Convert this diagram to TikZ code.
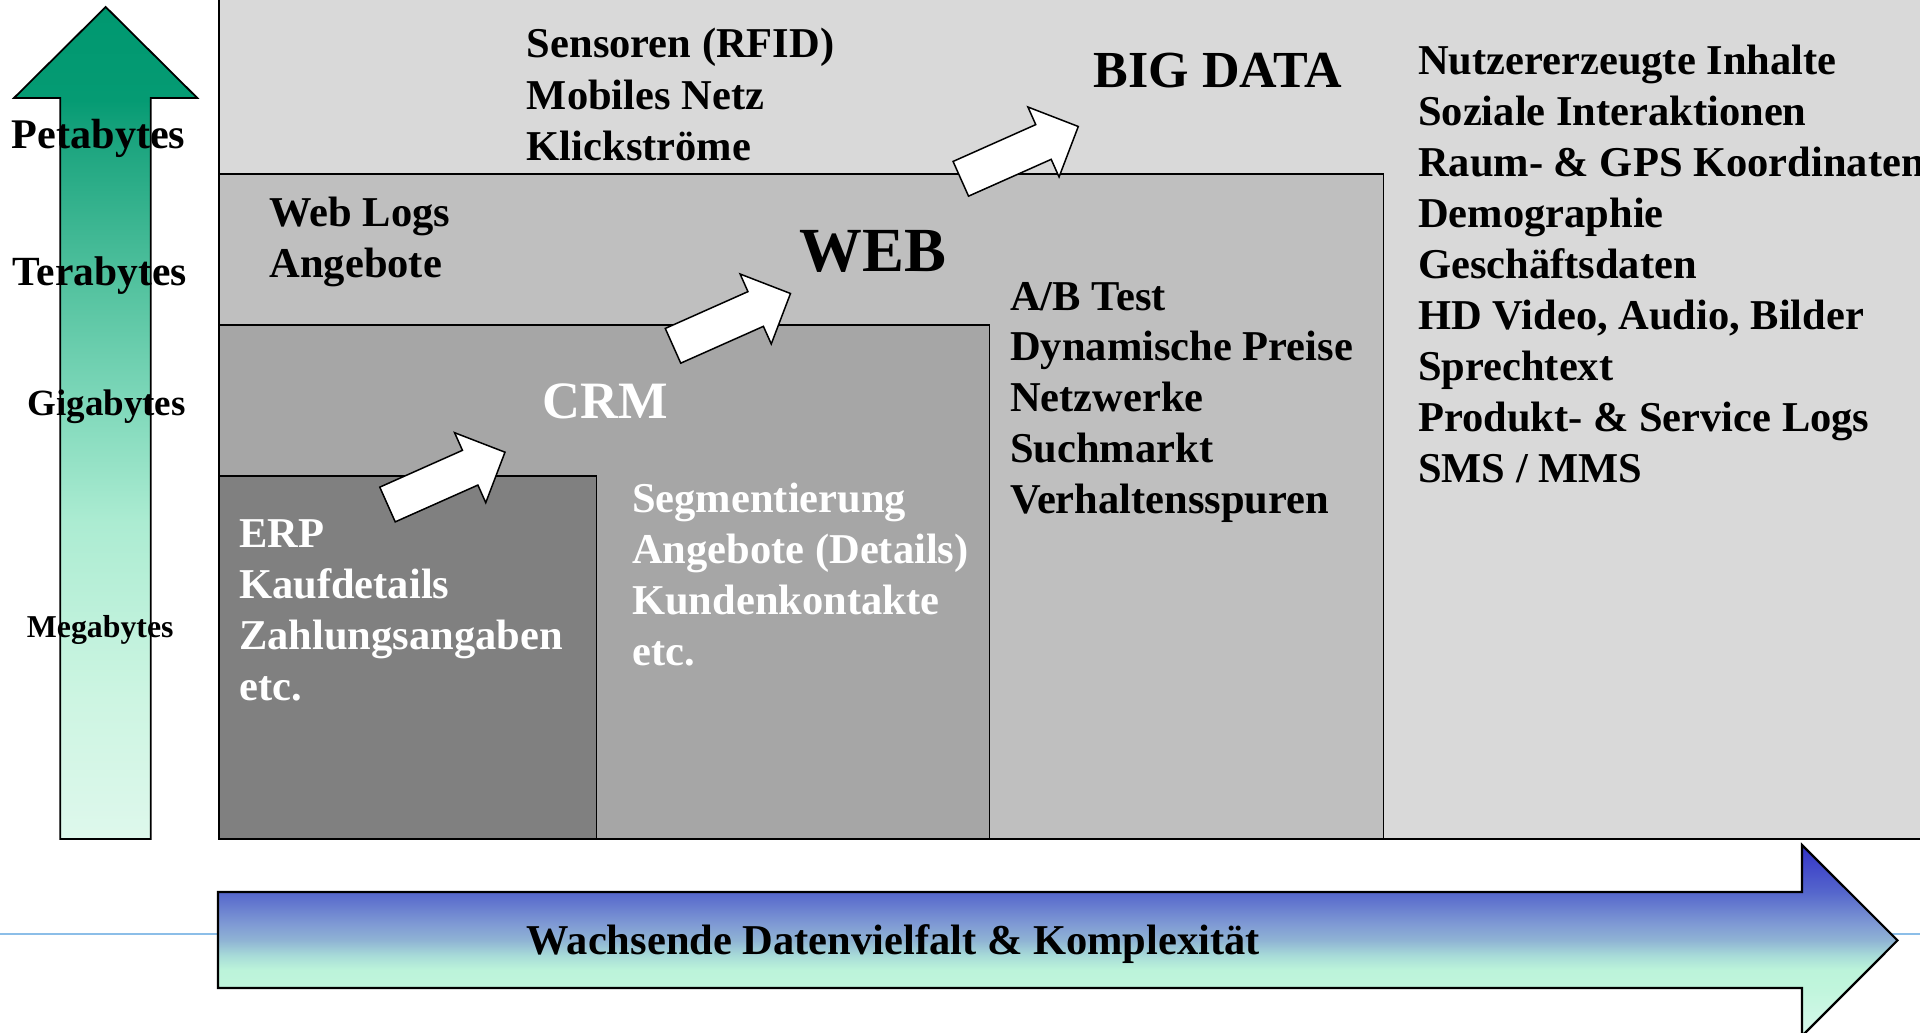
\documentclass[tikz,border=0pt]{standalone}
\usepackage{fontspec}
\setmainfont{Liberation Serif}
% green arrow colours (bottom -> top)
\definecolor{ga0}{RGB}{222,248,236}
\definecolor{ga1}{RGB}{205,245,226}
\definecolor{ga2}{RGB}{172,236,210}
\definecolor{ga3}{RGB}{125,215,185}
\definecolor{ga4}{RGB}{85,195,160}
\definecolor{ga5}{RGB}{25,163,125}
\definecolor{ga6}{RGB}{5,155,115}
\definecolor{ga7}{RGB}{0,152,112}
% blue arrow colours (bottom -> top)
\definecolor{ba0}{RGB}{215,248,235}
\definecolor{ba1}{RGB}{192,245,220}
\definecolor{ba2}{RGB}{188,244,218}
\definecolor{ba3}{RGB}{168,220,216}
\definecolor{ba4}{RGB}{143,179,212}
\definecolor{ba5}{RGB}{127,154,212}
\definecolor{ba6}{RGB}{85,102,204}
\definecolor{ba7}{RGB}{50,50,200}
\definecolor{bigdata}{RGB}{217,217,217}
\definecolor{webgray}{RGB}{191,191,191}
\definecolor{crmgray}{RGB}{166,166,166}
\definecolor{erpgray}{RGB}{128,128,128}
\definecolor{guideblue}{RGB}{140,190,232}
\pgfdeclareverticalshading{greenarrow}{100bp}{color(0bp)=(ga0); color(25bp)=(ga0); color(33.4bp)=(ga1); color(44bp)=(ga2); color(51.4bp)=(ga3); color(58bp)=(ga4); color(67.3bp)=(ga5); color(69.4bp)=(ga6); color(75bp)=(ga7); color(100bp)=(ga7)}
\pgfdeclareverticalshading{bluearrow}{100bp}{color(0bp)=(ba0); color(25bp)=(ba0); color(37.6bp)=(ba1); color(42.3bp)=(ba2); color(46bp)=(ba3); color(50.1bp)=(ba4); color(54.3bp)=(ba5); color(62.7bp)=(ba6); color(75bp)=(ba7); color(100bp)=(ba7)}
\tikzset{
  region/.style={draw=black, line width=1.8pt},
  whitearrow/.style={draw=black, fill=white, line width=1.5pt, line join=miter},
  pics/blockarr/.style={code={
    \draw[whitearrow] (0,-19) -- (90.5,-19) -- (90.5,-38.3) -- (128.6,0)
      -- (90.5,38.3) -- (90.5,19) -- (0,19) -- cycle;}},
  lbl/.style={inner sep=0pt, anchor=base west, font=\bfseries\fontsize{42.5}{51}\selectfont},
  wlbl/.style={lbl, text=white},
}
\begin{document}
\begin{tikzpicture}[x=1pt, y=-1pt]
\path[use as bounding box] (0,0) rectangle (1920,1033);
\clip (0,0) rectangle (1920,1033);
\fill[white] (0,0) rectangle (1920,1033);

% thin blue guide line
\draw[draw=guideblue, line width=2.5pt] (0,934) -- (1920,934);

% nested regions
\path[region, fill=bigdata] (219,-10) rectangle (1930,839);
\path[region, fill=webgray] (219,174) rectangle (1383.5,839);
\path[region, fill=crmgray] (219,325) rectangle (989.5,839);
\path[region, fill=erpgray] (219,476) rectangle (596.5,839);

% vertical volume arrow
\shade[shading=greenarrow, draw=black, line width=1.8pt, line join=miter]
  (60.3,839) -- (60.3,98) -- (14,98) -- (105.7,7) -- (197.3,98)
  -- (150.7,98) -- (150.7,839) -- cycle;

% horizontal variety arrow
\shade[shading=bluearrow, draw=black, line width=2.2pt, line join=miter]
  (218,892) -- (1802,892) -- (1802,845) -- (1897.5,940.4) -- (1802,1036)
  -- (1802,988) -- (218,988) -- cycle;

% white block arrows between the stages
\pic[rotate=24] (arrA) at (387.5,504.5) {blockarr};
\pic[rotate=24] (arrB) at (673,345.8) {blockarr};
\pic[rotate=24] (arrC) at (960.8,178.8) {blockarr};

% scale labels
\node[lbl, font=\bfseries\fontsize{42.2}{50}\selectfont] (peta) at (11.7,148.3) {Petabytes};
\node[lbl, font=\bfseries\fontsize{41.5}{50}\selectfont] (tera) at (12.7,285) {Terabytes};
\node[lbl, font=\bfseries\fontsize{37}{44}\selectfont] (giga) at (27.3,415) {Gigabytes};
\node[lbl, font=\bfseries\fontsize{31.8}{38}\selectfont] (mega) at (26.7,637.7) {Megabytes};

% stage titles
\node[lbl, font=\bfseries\fontsize{52}{60}\selectfont] (bigt) at (1093.5,88) {BIG DATA};
\node[lbl, font=\bfseries\fontsize{62.8}{72}\selectfont] (webt) at (799.6,271.6) {WEB};
\node[wlbl, font=\bfseries\fontsize{52.5}{60}\selectfont] (crmt) at (542.6,418.3) {CRM};

% text lists
\foreach \t [count=\i from 0] in {Sensoren (RFID), Mobiles Netz, Klickströme}
  \node[lbl] (top\i) at (526.7,57.5+51.5*\i) {\t};
\foreach \t [count=\i from 0] in {Web Logs, Angebote}
  \node[lbl] (wl\i) at (269.4,226+51*\i) {\t};
\foreach \t [count=\i from 0] in {A/B Test, Dynamische Preise, Netzwerke, Suchmarkt, Verhaltensspuren}
  \node[lbl] (ab\i) at (1010,310+50.8*\i) {\t};
\foreach \t [count=\i from 0] in {ERP, Kaufdetails, Zahlungsangaben, etc.}
  \node[wlbl] (erp\i) at (239,547.5+51*\i) {\t};
\foreach \t [count=\i from 0] in {Segmentierung, Angebote (Details), Kundenkontakte, etc.}
  \node[wlbl] (seg\i) at (632,512+51*\i) {\t};
\foreach \t [count=\i from 0] in {Nutzererzeugte Inhalte, Soziale Interaktionen, {Raum- \& GPS Koordinaten}, Demographie, Geschäftsdaten, {HD Video, Audio, Bilder}, Sprechtext, {Produkt- \& Service Logs}, SMS / MMS}
  \node[lbl] (bd\i) at (1418,74.5+51*\i) {\t};

\node[lbl] (variety) at (526.5,954) {Wachsende Datenvielfalt \& Komplexität};
\end{tikzpicture}
\end{document}
